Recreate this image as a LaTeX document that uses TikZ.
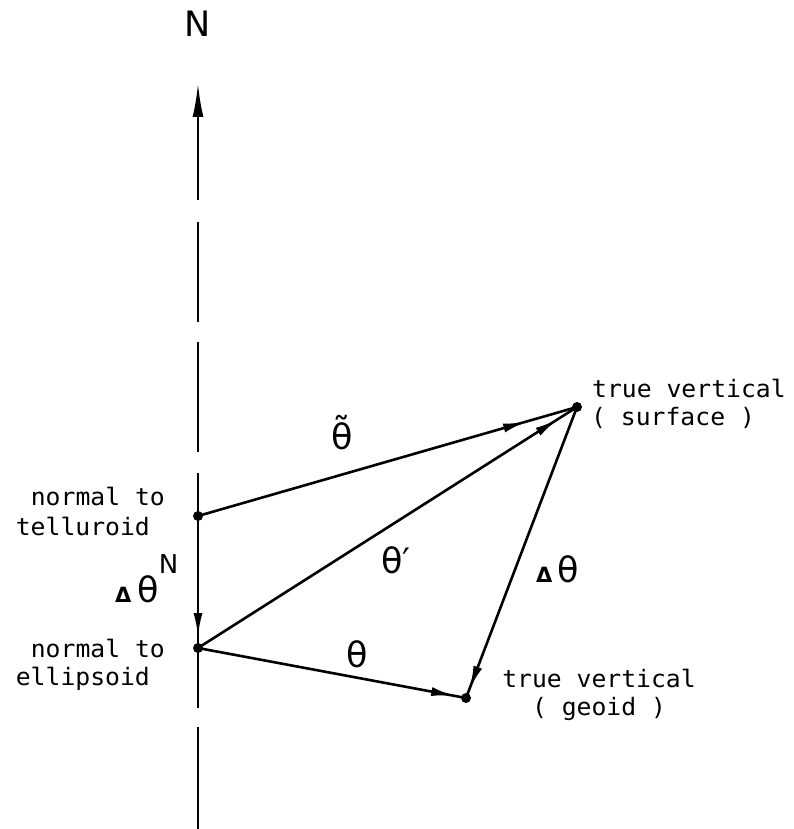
\documentclass[tikz,border=0pt]{standalone}
\usepackage{fontspec}
\usepackage{graphicx}
\setmainfont{DejaVu Sans}
\newfontfamily\labfont[FakeStretch=1.03]{DejaVu Sans Mono}
\usetikzlibrary{arrows.meta,decorations.markings}
\begin{document}
\begin{tikzpicture}[x=1pt,y=-1pt,
  axis/.style={line width=2.7pt},
  vec/.style={line width=2.6pt, postaction={decorate}},
  tipmark/.style={decoration={markings, mark=at position #1 with {\arrow{Latex[length=24pt,width=9pt]}}}},
  pt/.style={circle,fill,inner sep=0pt,minimum size=10pt},
  lab/.style={font=\labfont\fontsize{24}{28}\selectfont, inner sep=0pt},
  gr/.style={font=\fontsize{35}{40}\selectfont, inner sep=0pt}
]
\useasboundingbox (0,0) rectangle (794,829);
% points
\node[pt] (tel) at (198,516) {};
\node[pt] (ell) at (198,648) {};
\node[pt] (sur) at (577,407) {};
\node[pt] (geo) at (466,698) {};
% axis
\coordinate (ntip) at (198,83);
\coordinate (a1) at (198,200);
\coordinate (a2) at (198,222);
\coordinate (a3) at (198,322);
\coordinate (a4) at (198,342);
\coordinate (a5) at (198,452);
\coordinate (a6) at (198,473);
\coordinate (a7) at (198,708);
\coordinate (a8) at (198,727);
\coordinate (a9) at (198,829);
\draw[axis,-{Latex[length=34pt,width=11pt]}] (a1) -- (ntip);
\draw[axis] (a2) -- (a3);
\draw[axis] (a4) -- (a5);
\draw[axis] (a6) -- (tel.center);
\draw[axis] (ell.center) -- (a7);
\draw[axis] (a8) -- (a9);
% vectors
\draw[vec,tipmark=-11pt] (tel.center) -- (ell.center);
\draw[vec,tipmark=-52pt] (tel.center) -- (sur.center);
\draw[vec,tipmark=-22pt] (ell.center) -- (sur.center);
\draw[vec,tipmark=-9pt] (sur.center) -- (geo.center);
\draw[vec,tipmark=-11pt] (ell.center) -- (geo.center);
% labels
\node[gr,anchor=base] (nlab) at (198,37) {N};
\node[gr,anchor=base west] (ttil) at (331,449) {θ̃};
\node[gr,anchor=base west] (tpr) at (381,573) {θ′};
\node[gr] (tht) at (357,654) {θ};
\node[gr,anchor=base west] (dth) at (536,582) {{\fontsize{21}{21}\selectfont\bfseries Δ}\hspace{5pt}θ};
\node[gr,anchor=base west] (dtn) at (115,602) {{\fontsize{21}{21}\selectfont\bfseries Δ}\hspace{6pt}θ\raisebox{29pt}{\fontsize{26}{26}\selectfont N}};
\node[lab,anchor=base west] (s1) at (592,397) {true vertical};
\node[lab,anchor=base west] (s2) at (591,425) {( surface )};
\node[lab,anchor=base] (g1) at (599,687) {true vertical};
\node[lab,anchor=base] (g2) at (599,715) {( geoid )};
\node[lab,anchor=base east] (t1) at (165,505) {normal to};
\node[lab,anchor=base east] (t2) at (150,535) {telluroid};
\node[lab,anchor=base east] (e1) at (165,657) {normal to};
\node[lab,anchor=base east] (e2) at (150,685) {ellipsoid};
\end{tikzpicture}
\end{document}
